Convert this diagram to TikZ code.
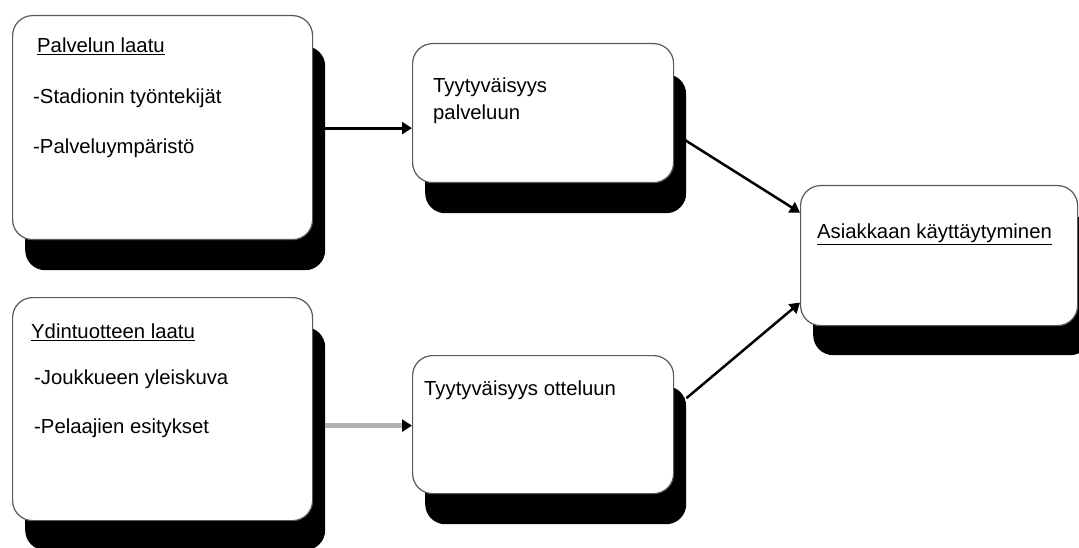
\documentclass[tikz,border=0pt]{standalone}
\usepackage{fontspec}
\setmainfont{Liberation Sans}
\usetikzlibrary{arrows.meta,calc}
\begin{document}
\begin{tikzpicture}[x=1pt,y=-1pt,
  box/.style={draw=black!65,line width=1.2pt,fill=white,rounded corners=20pt,anchor=north west,inner sep=0pt},
  shade/.style={fill=black,draw=none,rounded corners=20pt,anchor=north west,inner sep=0pt},
  txt/.style={anchor=west,inner sep=0pt,font=\fontsize{20.3}{27}\selectfont,align=left},
  arr/.style={line width=3pt,-{Triangle[length=10pt,width=12pt]}},
  garr/.style={line width=4.5pt,draw=gray!60,-{Triangle[length=10pt,width=12pt,color=black,fill=black]}}]
\useasboundingbox (0,0) rectangle (1079,548);
% shadows
\node[shade,minimum width=300pt,minimum height=224pt] (s1) at (25,46) {};
\node[shade,minimum width=261pt,minimum height=139pt] (s2) at (425,74) {};
\node[shade,minimum width=277pt,minimum height=140pt] (s3) at (813,215) {};
\node[shade,minimum width=300pt,minimum height=223pt] (s4) at (25,327) {};
\node[shade,minimum width=261pt,minimum height=138pt] (s5) at (425,386) {};
% boxes
\node[box,minimum width=300pt,minimum height=224pt] (b1) at (12,15) {};
\node[box,minimum width=261pt,minimum height=139pt] (b2) at (412,43) {};
\node[box,minimum width=277pt,minimum height=140pt] (b3) at (800,185) {};
\node[box,minimum width=300pt,minimum height=223pt] (b4) at (12,297) {};
\node[box,minimum width=261pt,minimum height=138pt] (b5) at (412,355) {};
% texts
\node[txt] (t1) at (37,46) {\underline{Palvelun laatu}};
\node[txt] (t2) at (33,98) {-Stadionin työntekijät};
\node[txt] (t3) at (33,148) {-Palveluympäristö};
\node[txt] (t4) at (433,101) {Tyytyväisyys\\palveluun};
\node[txt] (t5) at (817,234) {\underline{Asiakkaan käyttäytyminen}};
\node[txt] (t6) at (31,332) {\underline{Ydintuotteen laatu}};
\node[txt] (t7) at (34,379) {-Joukkueen yleiskuva};
\node[txt] (t8) at (34,428) {-Pelaajien esitykset};
\node[txt] (t9) at (424,390) {Tyytyväisyys otteluun};
% connectors
\coordinate (e1) at ($(b2.west)+(0,15)$);
\coordinate (e2) at ($(b5.west)+(0,1)$);
\draw[arr] (s1.east |- e1) -- (e1);
\draw[garr] (s4.east |- e2) -- (e2);
\draw[arr,line width=2.5pt] ($(s2.east)+(-2,-4)$) -- ($(b3.west)+(0,-43)$);
\draw[arr,line width=2.5pt] ($(s5.east)+(0,-57)$) -- ($(b3.west)+(0,47)$);
\end{tikzpicture}
\end{document}
